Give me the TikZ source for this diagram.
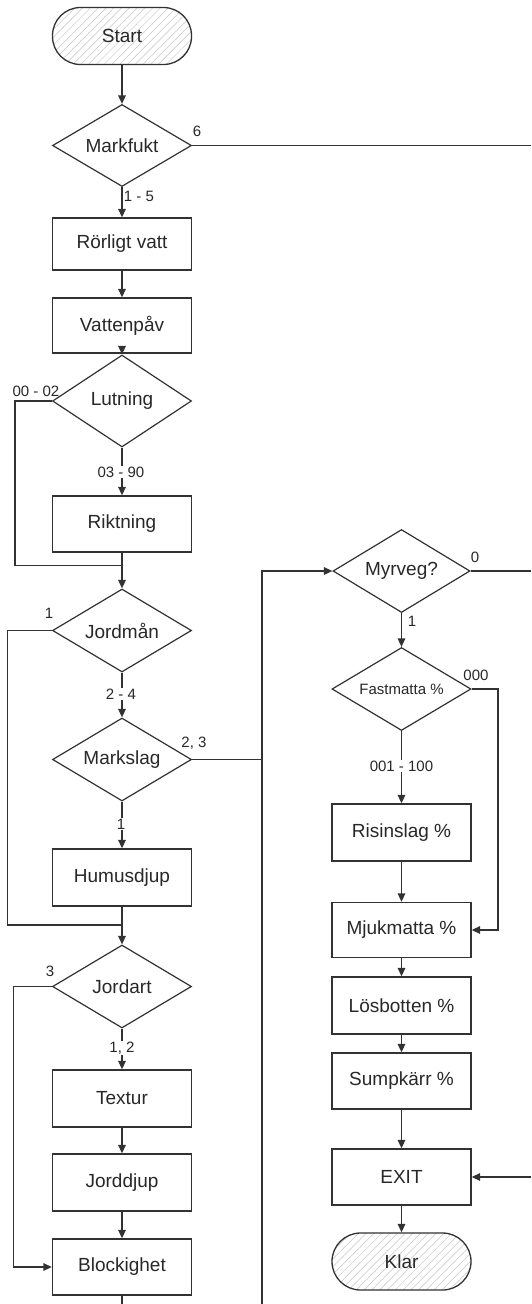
\documentclass[tikz,border=0pt]{standalone}
\usepackage{fontspec}
\setmainfont{Liberation Sans}
\usetikzlibrary{shapes.geometric,arrows.meta,patterns.meta}
\definecolor{ln}{RGB}{50,50,50}
\definecolor{tx}{RGB}{40,40,40}
\begin{document}
\begin{tikzpicture}[x=1pt,y=-1pt,
  every node/.style={text=tx},
  box/.style={draw=ln,line width=1.3pt,minimum width=139pt,minimum height=56pt,inner sep=0pt,font=\fontsize{19}{22}\selectfont},
  term/.style={box,rounded corners=28pt,pattern={Lines[angle=45,distance=5.5pt,line width=0.5pt]},pattern color=gray!45},
  dec/.style={diamond,draw=ln,line width=1.2pt,minimum width=139pt,minimum height=83pt,inner sep=0pt,aspect=1.7,font=\fontsize{19}{22}\selectfont},
  lbl/.style={font=\fontsize{15}{17}\selectfont,inner sep=1pt},
  wlbl/.style={lbl,fill=white},
  conn/.style={draw=ln,line width=1.5pt},
  arr/.style={conn,-{Triangle[length=8.5pt,width=7.5pt]}}
]
\useasboundingbox[fill=white] (0,0) rectangle (531,1304);

% left column
\node[term,minimum height=57pt] (start) at (122,36) {Start};
\node[dec,minimum height=82pt] (markfukt) at (122,145.5) {Markfukt};
\node[box,minimum height=52pt] (rorligt) at (122,244) {Rörligt vatt};
\node[box,minimum height=55pt] (vatten) at (122,325.5) {Vattenpåv};
\node[dec,minimum height=92pt] (lutning) at (122,401) {Lutning};
\node[box] (riktning) at (122,524) {Riktning};
\node[dec] (jordman) at (122,630.5) {Jordmån};
\node[dec] (markslag) at (122,759.5) {Markslag};
\node[box,minimum height=57pt] (humus) at (122,877.5) {Humusdjup};
\node[dec] (jordart) at (122,986.5) {Jordart};
\node[box,minimum height=57pt] (textur) at (122,1098.5) {Textur};
\node[box,minimum height=57pt] (jorddjup) at (122,1182.5) {Jorddjup};
\node[box] (block) at (122,1267) {Blockighet};

% right column
\node[dec,minimum width=137pt] (myrveg) at (401.5,571) {Myrveg?};
\node[dec,font=\fontsize{15}{17}\selectfont] (fast) at (401.5,689) {Fastmatta \%};
\node[box,minimum height=57pt] (ris) at (401.5,832.5) {Risinslag \%};
\node[box,minimum height=55pt] (mjuk) at (401.5,930) {Mjukmatta \%};
\node[box,minimum height=57pt] (los) at (401.5,1005.5) {Lösbotten \%};
\node[box] (sump) at (401.5,1081) {Sumpkärr \%};
\node[box] (exit) at (401.5,1177) {EXIT};
\node[term,minimum height=57pt,rounded corners=28.5pt] (klar) at (401.5,1261.5) {Klar};

% free ends and joins
\coordinate (eMark) at (531,145.5);
\coordinate (eMyr) at (531,571);
\coordinate (eExit) at (531,1177);
\coordinate (bBlock) at (122,1304);
\coordinate (bLoop) at (262,1304);
\coordinate (jLut) at (122,565.7);
\coordinate (jJord) at (122,925);
\coordinate (cLut) at (15,401);
\coordinate (cJordman) at (7.5,630.5);
\coordinate (cJordart) at (13.5,986.5);
\coordinate (cMark) at (262,759.5);
\coordinate (cFast) at (498,689);

% connectors left
\draw[arr] (start) -- (markfukt);
\draw[conn] (markfukt.east) -- (eMark);
\draw[arr] (markfukt) -- (rorligt);
\draw[arr] (rorligt) -- (vatten);
\draw[arr] (vatten) -- (lutning);
\draw[conn] (lutning.west) -- (cLut) |- (jLut);
\draw[arr] (lutning) -- (riktning);
\draw[arr] (riktning) -- (jordman);
\draw[conn] (jordman.west) -- (cJordman) |- (jJord);
\draw[arr] (jordman) -- (markslag);
\draw[conn] (markslag.east) -- (cMark);
\draw[arr] (bLoop) |- (myrveg.west);
\draw[arr] (markslag) -- (humus);
\draw[arr] (humus) -- (jordart);
\draw[arr] (jordart.west) -- (cJordart) |- (block.west);
\draw[arr] (jordart) -- (textur);
\draw[arr] (textur) -- (jorddjup);
\draw[arr] (jorddjup) -- (block);
\draw[conn] (block) -- (bBlock);

% connectors right
\draw[conn] (myrveg.east) -- (eMyr);
\draw[arr] (myrveg) -- (fast);
\draw[arr] (fast.east) -- (cFast) |- (mjuk.east);
\draw[arr] (fast) -- (ris);
\draw[arr] (ris) -- (mjuk);
\draw[arr] (mjuk) -- (los);
\draw[arr] (los) -- (sump);
\draw[arr] (sump) -- (exit);
\draw[arr] (exit) -- (klar);
\draw[arr] (eExit) -- (exit.east);

% labels
\node[lbl] (l6) at (197,131) {6};
\node[lbl] (l15) at (139,196) {1 - 5};
\node[lbl] (l0002) at (36,391) {00 - 02};
\node[wlbl] (l0390) at (121,472) {03 - 90};
\node[lbl] (l1a) at (49,613) {1};
\node[wlbl] (l24) at (121,694) {2 - 4};
\node[lbl] (l23) at (194,743) {2, 3};
\node[wlbl] (l1b) at (121,824) {1};
\node[lbl] (l3) at (50,971) {3};
\node[wlbl] (l12) at (122,1048) {1, 2};
\node[lbl] (l0) at (475,557) {0};
\node[lbl] (l1c) at (412,621) {1};
\node[lbl] (l000) at (476,675) {000};
\node[wlbl] (l001) at (401.5,766) {001 - 100};
\end{tikzpicture}
\end{document}
